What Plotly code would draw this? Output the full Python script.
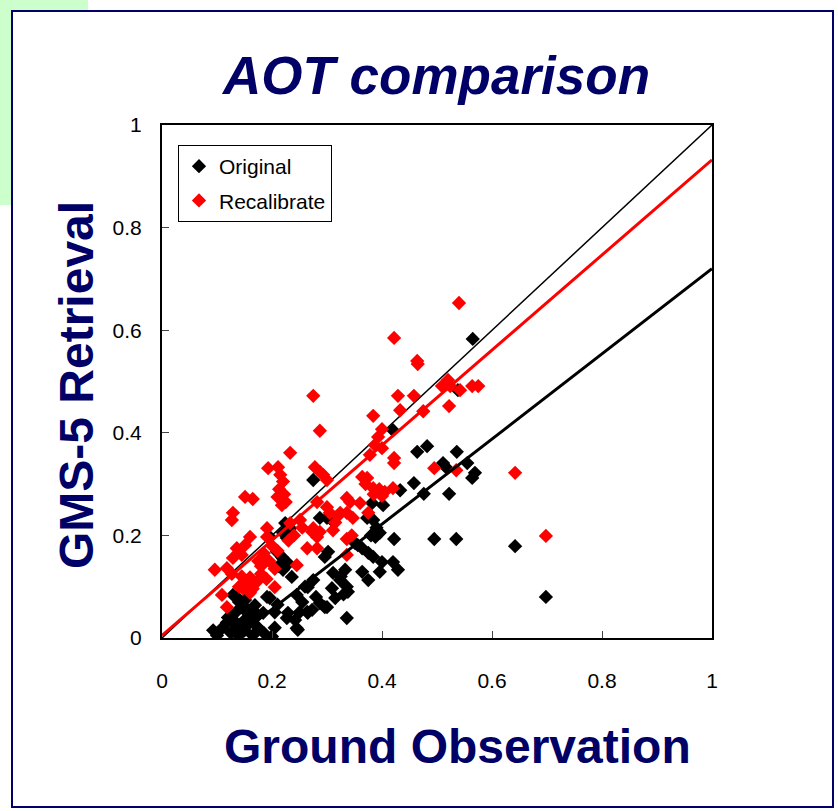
import plotly.graph_objects as go

# ---- data ----
orig_x = [0.565,0.538,0.420,0.464,0.482,0.536,0.511,0.555,0.569,0.564,0.518,0.458,0.476,0.522,0.433,
          0.382,0.402,0.384,0.390,0.396,0.380,0.388,0.422,0.495,0.535,0.642,0.698,0.356,0.364,0.375,
          0.384,0.400,0.420,0.429,0.396,0.364,0.333,0.375,0.324,0.338,0.309,0.315,0.296,0.336,0.296,
          0.302,0.351,0.305,0.373,0.275,0.287,0.309,0.300,0.224,0.220,0.233,0.196,0.227,0.233,0.209,
          0.220,0.230,0.212,0.218,0.220,0.265,0.245,0.255,0.250,0.242,0.287,0.300,0.265,0.229,0.247,
          0.311,0.325,0.336,0.330,0.275,0.236,0.260,0.280,0.191,0.169,0.129,0.140,0.151,0.135,0.196,
          0.210,0.205,0.227,0.264,0.273,0.245,0.093,0.100,0.110,0.118,0.125,0.135,0.140,0.150,0.160,
          0.165,0.175,0.185,0.200,0.205,0.136,0.151,0.145,0.184,0.155,0.165,0.150,0.170,0.120,0.130]
orig_y = [0.583,0.483,0.405,0.363,0.374,0.363,0.341,0.341,0.322,0.312,0.331,0.302,0.281,0.281,0.288,
          0.263,0.259,0.230,0.215,0.205,0.200,0.197,0.193,0.193,0.193,0.179,0.080,0.181,0.175,0.166,
          0.158,0.148,0.148,0.133,0.129,0.129,0.133,0.113,0.113,0.090,0.097,0.078,0.060,0.039,0.158,
          0.168,0.185,0.234,0.234,0.308,0.234,0.230,0.234,0.224,0.205,0.214,0.197,0.195,0.207,0.168,
          0.155,0.145,0.140,0.158,0.133,0.099,0.084,0.070,0.050,0.035,0.068,0.060,0.049,0.049,0.016,
          0.127,0.120,0.100,0.085,0.113,0.119,0.100,0.080,0.080,0.064,0.084,0.070,0.060,0.051,0.078,
          0.065,0.050,0.039,0.051,0.055,0.019,0.015,0.005,0.020,0.030,0.010,0.025,0.005,0.015,0.030,
          0.005,0.020,0.010,0.003,0.020,0.080,0.074,0.060,0.049,0.049,0.055,0.035,0.040,0.040,0.035]

recal_x = [0.540,0.422,0.464,0.465,0.509,0.520,0.524,0.542,0.564,0.575,0.429,0.458,0.522,0.433,0.475,
           0.384,0.400,0.393,0.387,0.400,0.378,0.422,0.495,0.535,0.642,0.422,0.420,0.400,0.384,0.364,
           0.373,0.336,0.360,0.336,0.347,0.375,0.336,0.336,0.698,0.275,0.287,0.233,0.193,0.211,0.215,
           0.220,0.213,0.222,0.210,0.225,0.218,0.278,0.287,0.293,0.300,0.151,0.165,0.282,0.300,0.342,
           0.129,0.127,0.324,0.251,0.233,0.275,0.282,0.311,0.191,0.160,0.191,0.264,0.282,0.273,0.287,
           0.136,0.151,0.145,0.129,0.096,0.118,0.127,0.145,0.160,0.173,0.155,0.140,0.165,0.245,0.205,
           0.109,0.118,0.160,0.147,0.175,0.185,0.200,0.195,0.180,0.210,0.305,0.315,0.345,0.320,0.370,
           0.395,0.405,0.385,0.230,0.240,0.255,0.205,0.180,0.190]
recal_y = [0.653,0.585,0.540,0.534,0.491,0.503,0.491,0.483,0.491,0.491,0.472,0.472,0.452,0.444,0.442,
           0.433,0.407,0.392,0.376,0.370,0.357,0.351,0.331,0.327,0.322,0.341,0.292,0.277,0.292,0.314,
           0.312,0.273,0.263,0.244,0.234,0.244,0.193,0.162,0.199,0.472,0.404,0.361,0.331,0.333,0.318,
           0.305,0.290,0.280,0.275,0.265,0.259,0.333,0.324,0.318,0.308,0.275,0.271,0.265,0.255,0.265,
           0.244,0.230,0.244,0.230,0.224,0.214,0.197,0.210,0.197,0.197,0.214,0.175,0.175,0.207,0.207,
           0.175,0.181,0.162,0.156,0.133,0.136,0.125,0.120,0.118,0.110,0.105,0.100,0.096,0.142,0.099,
           0.084,0.060,0.088,0.097,0.150,0.165,0.180,0.150,0.140,0.170,0.244,0.225,0.200,0.238,0.300,
           0.290,0.285,0.280,0.190,0.200,0.215,0.135,0.125,0.115]

# regression lines (slope, intercept) and x-extent
orig_fit = (0.83, -0.11)
orig_fit_x = [0.13, 1.0]
recal_fit = (0.927, 0.005)
recal_fit_x = [0.0, 1.0]
one_to_one_x = [0.0, 1.0]

tick_vals = [0, 0.2, 0.4, 0.6, 0.8, 1]
tick_text = ["0", "0.2", "0.4", "0.6", "0.8", "1"]

NAVY = "#000066"

fig = go.Figure()

fig.add_trace(go.Scatter(x=one_to_one_x, y=one_to_one_x, mode="lines",
                         line=dict(color="black", width=1.5), showlegend=False, hoverinfo="skip"))
fig.add_trace(go.Scatter(x=orig_x, y=orig_y, mode="markers", name="Original",
                         legendgroup="a",
                         marker=dict(symbol="diamond", size=11, color="black", line=dict(width=0))))
fig.add_trace(go.Scatter(x=recal_x, y=recal_y, mode="markers", name="Recalibrate",
                         legendgroup="b",
                         marker=dict(symbol="diamond", size=11, color="#FF0000", line=dict(width=0))))
fig.add_trace(go.Scatter(x=orig_fit_x, y=[orig_fit[0] * v + orig_fit[1] for v in orig_fit_x],
                         mode="lines", line=dict(color="black", width=3), showlegend=False,
                         hoverinfo="skip"))
fig.add_trace(go.Scatter(x=recal_fit_x, y=[recal_fit[0] * v + recal_fit[1] for v in recal_fit_x],
                         mode="lines", line=dict(color="#FF0000", width=3), showlegend=False,
                         hoverinfo="skip"))

# pixel -> paper helpers for decorations
L, R, T, B = 162, 712, 125, 638
def px(xp):
    return (xp - L) / (R - L)
def py(yp):
    return (B - yp) / (B - T)

shapes = [
    dict(type="rect", xref="paper", yref="paper", x0=px(0), x1=px(88), y0=py(11), y1=py(0),
         fillcolor="#CCFFCC", line=dict(width=0), layer="below"),
    dict(type="rect", xref="paper", yref="paper", x0=px(0), x1=px(11), y0=py(205), y1=py(0),
         fillcolor="#CCFFCC", line=dict(width=0), layer="below"),
    dict(type="rect", xref="paper", yref="paper", x0=px(12), x1=px(833), y0=py(807), y1=py(11),
         fillcolor="rgba(0,0,0,0)", line=dict(color=NAVY, width=2), layer="below"),
]

annotations = [
    dict(text="<b><i>AOT comparison</i></b>", xref="paper", yref="paper", x=px(435), y=py(76),
         showarrow=False, xanchor="center", yanchor="middle",
         font=dict(family="Liberation Sans, Arial, sans-serif", size=53, color=NAVY)),
    dict(text="<b>GMS-5 Retrieval</b>", xref="paper", yref="paper", x=px(76), y=py(385),
         showarrow=False, xanchor="center", yanchor="middle", textangle=-90,
         font=dict(family="Liberation Sans, Arial, sans-serif", size=48, color=NAVY)),
    dict(text="<b>Ground Observation</b>", xref="paper", yref="paper", x=px(457), y=py(746),
         showarrow=False, xanchor="center", yanchor="middle",
         font=dict(family="Liberation Sans, Arial, sans-serif", size=48, color=NAVY)),
]

axis_common = dict(range=[0, 1], tickvals=tick_vals, ticktext=tick_text, showgrid=False,
                   zeroline=False, showline=True, linecolor="black", linewidth=2, mirror=True,
                   ticks="inside", ticklen=7, tickcolor="#444444", tickwidth=1,
                   tickfont=dict(family="Liberation Sans, Arial", size=21, color="black"))

fig.update_layout(
    width=838, height=811,
    margin=dict(l=L, r=838 - R, t=T, b=811 - B, pad=0),
    paper_bgcolor="white", plot_bgcolor="white",
    xaxis=dict(**axis_common, ticklabelstandoff=23),
    yaxis=dict(**axis_common, ticklabelstandoff=14),
    shapes=shapes, annotations=annotations,
    legend=dict(x=px(178), y=py(145), xanchor="left", yanchor="top",
                bgcolor="white", bordercolor="black", borderwidth=1,
                font=dict(family="Liberation Sans, Arial, sans-serif", size=21, color="black"),
                itemwidth=30, traceorder="grouped", tracegroupgap=4),
    showlegend=True,
)

fig.write_html("out.html")
